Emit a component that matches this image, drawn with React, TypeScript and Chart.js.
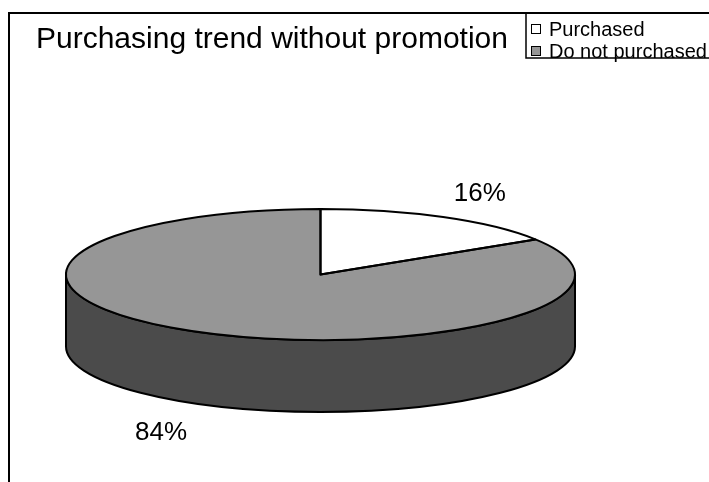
import React, { useEffect, useRef } from "react";
import { Chart, registerables } from "chart.js";

Chart.register(...registerables);

// ---- data ----
const labels = ["Purchased", "Do not purchased"];
const values = [16, 84];
const pctLabels = ["16%", "84%"];
const titleText = "Purchasing trend without promotion";

// ---- styles ----
const topColors = ["#ffffff", "#969696"];
const sideColors = ["#bdbdbd", "#4b4b4b"];
const FONT = "'Liberation Sans', Arial, sans-serif";

// ---- geometry ----
const CANVAS_W = 709;
const CANVAS_H = 600;
const CX = 320.5;
const CY = 274.5;
const RX = 254.5;
const RY = 65.5;
const DEPTH = 72;
const K = RY / RX;

const pie3d = {
  id: "pie3d",
  beforeDatasetsDraw(chart: any) {
    const ctx = chart.ctx as CanvasRenderingContext2D;
    const meta = chart.getDatasetMeta(0);
    ctx.save();
    ctx.lineWidth = 2;
    ctx.strokeStyle = "#000";
    ctx.lineJoin = "round";
    meta.data.forEach((arc: any, i: number) => {
      const { x, y, startAngle, endAngle, outerRadius } = arc.getProps(
        ["x", "y", "startAngle", "endAngle", "outerRadius"],
        true
      );
      const ry = outerRadius * K;
      for (let n = -1; n <= 2; n++) {
        const lo = Math.max(startAngle, 2 * Math.PI * n);
        const hi = Math.min(endAngle, 2 * Math.PI * n + Math.PI);
        if (hi > lo) {
          ctx.beginPath();
          ctx.ellipse(x, y, outerRadius, ry, 0, lo, hi, false);
          ctx.ellipse(x, y + DEPTH, outerRadius, ry, 0, hi, lo, true);
          ctx.closePath();
          ctx.fillStyle = sideColors[i];
          ctx.fill();
          ctx.stroke();
        }
      }
    });
    ctx.restore();
    const first = meta.data[0];
    const cy = first ? first.y : CY;
    ctx.save();
    ctx.translate(0, cy);
    ctx.scale(1, K);
    ctx.translate(0, -cy);
  },
  afterDatasetsDraw(chart: any) {
    const ctx = chart.ctx as CanvasRenderingContext2D;
    ctx.restore();
    const meta = chart.getDatasetMeta(0);
    ctx.save();
    ctx.lineWidth = 2;
    ctx.strokeStyle = "#000";
    ctx.lineJoin = "round";
    meta.data.forEach((arc: any) => {
      const { x, y, startAngle, endAngle, outerRadius } = arc.getProps(
        ["x", "y", "startAngle", "endAngle", "outerRadius"],
        true
      );
      const ry = outerRadius * K;
      ctx.beginPath();
      ctx.moveTo(x, y);
      ctx.ellipse(x, y, outerRadius, ry, 0, startAngle, endAngle, false);
      ctx.closePath();
      ctx.stroke();
    });
    // percentage labels
    ctx.fillStyle = "#000";
    ctx.font = `26px ${FONT}`;
    ctx.textAlign = "center";
    ctx.textBaseline = "middle";
    meta.data.forEach((arc: any, i: number) => {
      const { x, y, startAngle, endAngle, outerRadius } = arc.getProps(
        ["x", "y", "startAngle", "endAngle", "outerRadius"],
        true
      );
      const ry = outerRadius * K;
      const mid = (startAngle + endAngle) / 2;
      const s = Math.sin(mid);
      const lx = x + 1.3 * outerRadius * Math.cos(mid);
      const ly = y + 1.45 * ry * s + (s > 0 ? DEPTH : 0) + 3;
      ctx.fillText(pctLabels[i], lx, ly);
    });
    ctx.restore();
  },
  afterDraw(chart: any) {
    const ctx = chart.ctx as CanvasRenderingContext2D;
    ctx.save();
    // outer frame
    ctx.strokeStyle = "#000";
    ctx.lineWidth = 2;
    ctx.beginPath();
    ctx.moveTo(9, CANVAS_H + 10);
    ctx.lineTo(9, 13);
    ctx.lineTo(CANVAS_W + 10, 13);
    ctx.stroke();
    // title
    ctx.fillStyle = "#000";
    ctx.font = `30px ${FONT}`;
    ctx.textAlign = "left";
    ctx.textBaseline = "alphabetic";
    ctx.fillText(titleText, 36, 48);
    // legend box
    const lx = 526;
    ctx.lineWidth = 1.5;
    ctx.beginPath();
    ctx.moveTo(lx, 13);
    ctx.lineTo(lx, 58);
    ctx.lineTo(CANVAS_W + 10, 58);
    ctx.stroke();
    ctx.font = `20px ${FONT}`;
    ctx.textBaseline = "middle";
    labels.forEach((lab, i) => {
      const rowY = 29 + i * 22;
      ctx.fillStyle = topColors[i];
      ctx.fillRect(531, rowY - 5, 10, 10);
      ctx.lineWidth = 1;
      ctx.strokeStyle = "#000";
      ctx.strokeRect(531.5, rowY - 4.5, 9, 9);
      ctx.fillStyle = "#000";
      ctx.fillText(lab, 549, rowY + 1);
    });
    ctx.restore();
  },
};

export default function App() {
  const ref = useRef<HTMLCanvasElement | null>(null);
  useEffect(() => {
    if (!ref.current) return;
    const chart = new Chart(ref.current, {
      type: "pie",
      data: {
        labels,
        datasets: [
          {
            data: values,
            backgroundColor: topColors,
            borderWidth: 0,
            hoverOffset: 0,
            offset: 0,
            clip: false,
          } as any,
        ],
      },
      options: {
        responsive: false,
        animation: false,
        events: [],
        radius: RX,
        rotation: 0,
        layout: {
          padding: {
            left: CX - RX,
            right: CANVAS_W - (CX + RX),
            top: CY - RX,
            bottom: CANVAS_H - (CY + RX),
          },
        },
        plugins: {
          legend: { display: false },
          title: { display: false },
          tooltip: { enabled: false },
        },
      } as any,
      plugins: [pie3d],
    });
    return () => chart.destroy();
  }, []);
  return (
    <div
      style={{
        position: "fixed",
        left: 0,
        top: 0,
        width: 709,
        height: 482,
        overflow: "hidden",
        background: "#fff",
      }}
    >
      <canvas
        ref={ref}
        width={CANVAS_W}
        height={CANVAS_H}
        style={{ width: CANVAS_W, height: CANVAS_H, display: "block" }}
      />
    </div>
  );
}
